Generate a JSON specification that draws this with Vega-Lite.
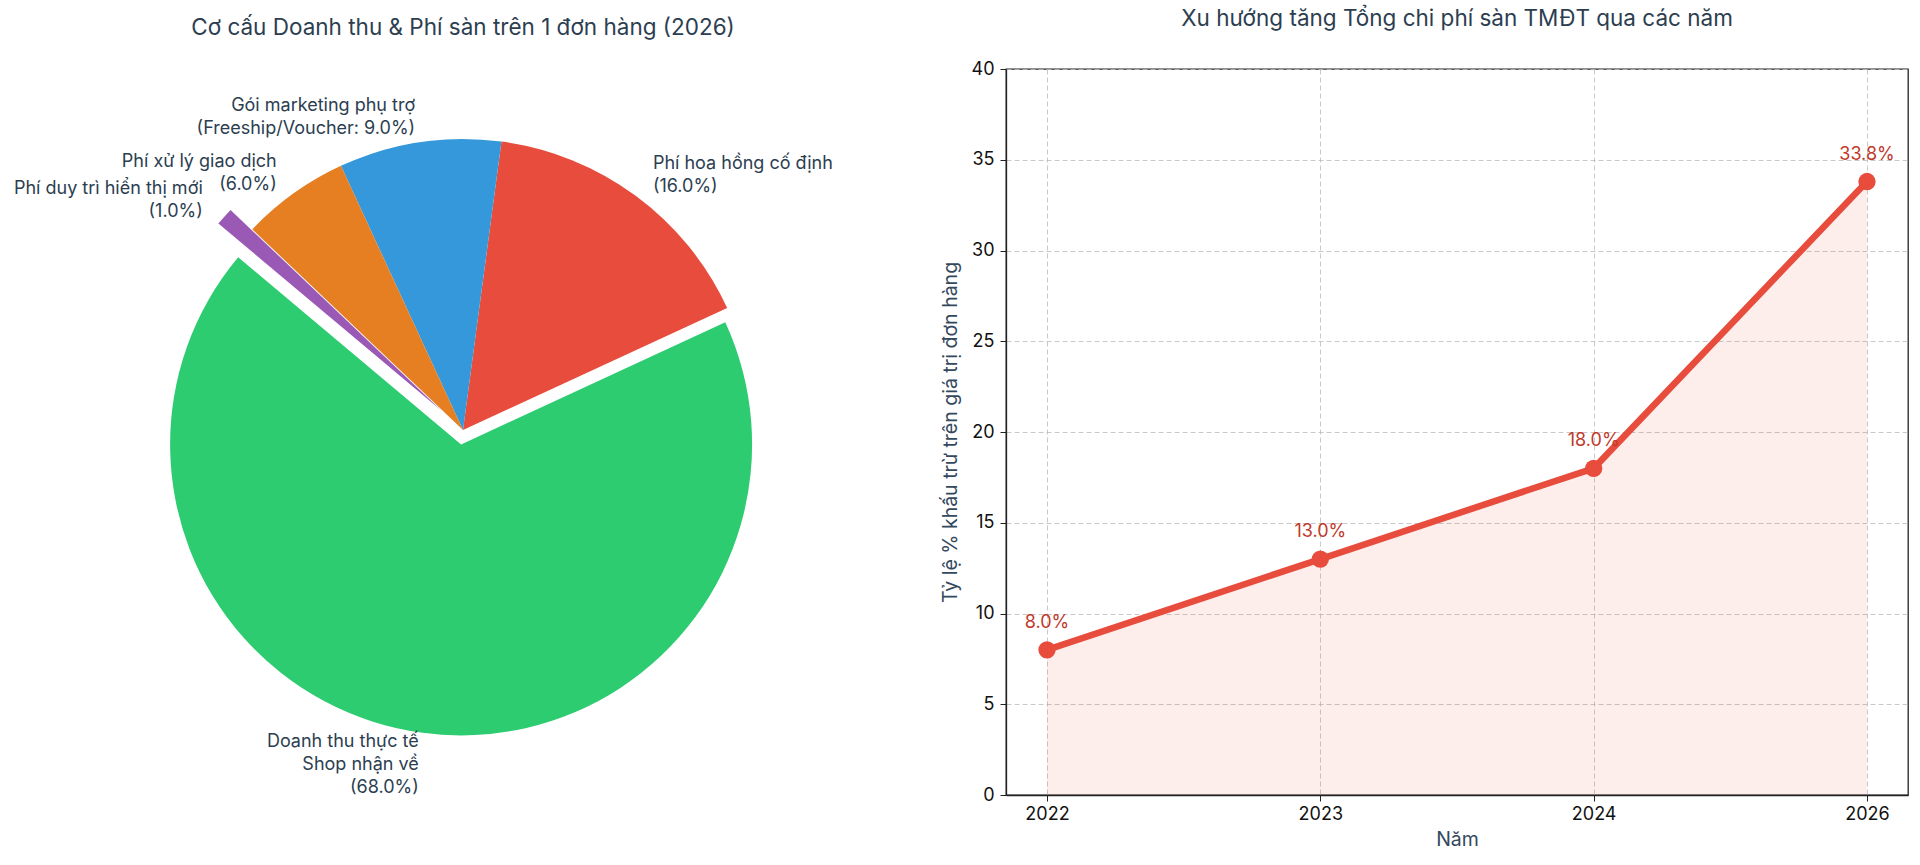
{
  "$schema": "https://vega.github.io/schema/vega-lite/v6.json",
  "padding": {"left": 0, "top": 6, "right": 0, "bottom": 0},
  "background": "white",
  "config": {
    "font": "Inter",
    "view": {"stroke": null},
    "title": {"fontSize": 22.5, "fontWeight": "normal", "color": "#2c3e50", "offset": 30, "anchor": "middle"},
    "axis": {"labelFont": "Inter", "titleFont": "Inter"}
  },
  "hconcat": [
    {
      "width": 926,
      "height": 722,
      "title": "Cơ cấu Doanh thu & Phí sàn trên 1 đơn hàng (2026)",
      "data": {"values": [
        {"id": "revenue", "part": "Doanh thu thực tế Shop nhận về", "value": 68, "label": "Doanh thu thực tế\nShop nhận về\n(68.0%)"},
        {"id": "commission", "part": "Phí hoa hồng cố định", "value": 16, "label": "Phí hoa hồng cố định\n(16.0%)"},
        {"id": "marketing", "part": "Gói marketing phụ trợ", "value": 9, "label": "Gói marketing phụ trợ\n(Freeship/Voucher: 9.0%)"},
        {"id": "processing", "part": "Phí xử lý giao dịch", "value": 6, "label": "Phí xử lý giao dịch\n(6.0%)"},
        {"id": "display", "part": "Phí duy trì hiển thị mới", "value": 1, "label": "Phí duy trì hiển thị mới\n(1.0%)"}
      ]},
      "encoding": {
        "theta": {"field": "value", "type": "quantitative", "stack": true, "scale": {"range": [-0.872665, 5.410521]}},
        "order": {"field": "value", "type": "quantitative", "sort": "ascending"},
        "detail": {"field": "id", "type": "nominal"}
      },
      "layer": [
        {
          "mark": {"type": "arc", "outerRadius": 291},
          "encoding": {
            "color": {"field": "id", "type": "nominal", "legend": null,
              "scale": {"domain": ["revenue", "commission", "marketing", "processing", "display"],
                        "range": ["#2ecc71", "#e74c3c", "#3498db", "#e67e22", "#9b59b6"]}},
            "opacity": {"condition": {"test": "datum.id === 'revenue' || datum.id === 'display'", "value": 0}, "value": 1}
          }
        },
        {
          "mark": {"type": "arc", "outerRadius": 291, "xOffset": -1.9, "yOffset": 14.4},
          "encoding": {
            "color": {"field": "id", "type": "nominal", "legend": null},
            "opacity": {"condition": {"test": "datum.id === 'revenue'", "value": 1}, "value": 0}
          }
        },
        {
          "mark": {"type": "arc", "outerRadius": 291, "xOffset": -21.7, "yOffset": -19.4},
          "encoding": {
            "color": {"field": "id", "type": "nominal", "legend": null},
            "opacity": {"condition": {"test": "datum.id === 'display'", "value": 1}, "value": 0}
          }
        },
        {
          "mark": {"type": "text", "radius": 320, "align": "left", "baseline": "middle", "lineBreak": "\n", "lineHeight": 23, "fontSize": 18, "color": "#2c3e50", "dy": -8},
          "encoding": {
            "text": {"field": "label"},
            "opacity": {"condition": {"test": "datum.id === 'commission'", "value": 1}, "value": 0}
          }
        },
        {
          "mark": {"type": "text", "radius": 320, "align": "right", "baseline": "middle", "lineBreak": "\n", "lineHeight": 23, "fontSize": 18, "color": "#2c3e50", "dy": -8},
          "encoding": {
            "text": {"field": "label"},
            "opacity": {"condition": {"test": "datum.id === 'processing' || datum.id === 'marketing'", "value": 1}, "value": 0}
          }
        },
        {
          "mark": {"type": "text", "radius": 320, "align": "right", "baseline": "middle", "lineBreak": "\n", "lineHeight": 23, "fontSize": 18, "color": "#2c3e50", "xOffset": -1.9, "yOffset": 14.4, "dy": -20},
          "encoding": {
            "text": {"field": "label"},
            "opacity": {"condition": {"test": "datum.id === 'revenue'", "value": 1}, "value": 0}
          }
        },
        {
          "mark": {"type": "text", "radius": 320, "align": "right", "baseline": "middle", "lineBreak": "\n", "lineHeight": 23, "fontSize": 18, "color": "#2c3e50", "xOffset": -21.7, "yOffset": -19.4, "dy": -8},
          "encoding": {
            "text": {"field": "label"},
            "opacity": {"condition": {"test": "datum.id === 'display'", "value": 1}, "value": 0}
          }
        }
      ]
    },
    {
      "width": 902,
      "height": 726,
      "view": {"stroke": "#222222", "strokeWidth": 1.3},
      "title": "Xu hướng tăng Tổng chi phí sàn TMĐT qua các năm",
      "data": {"values": [
        {"year": "2022", "pct": 8.0, "label": "8.0%"},
        {"year": "2023", "pct": 13.0, "label": "13.0%"},
        {"year": "2024", "pct": 18.0, "label": "18.0%"},
        {"year": "2026", "pct": 33.8, "label": "33.8%"}
      ]},
      "encoding": {
        "x": {"field": "year", "type": "ordinal", "title": "Năm",
          "scale": {"type": "point", "padding": 0.15},
          "axis": {"labelAngle": 0, "labelFontSize": 18, "labelColor": "#111111", "labelPadding": 4,
                   "titleFontSize": 19.5, "titleFontWeight": "normal", "titleColor": "#34495e", "titlePadding": 7,
                   "tickColor": "#222222", "tickSize": 6, "domainColor": "#222222", "domainWidth": 1.3,
                   "grid": true, "gridDash": [5, 3], "gridColor": "#bbbbbb", "gridOpacity": 0.8}},
        "y": {"field": "pct", "type": "quantitative", "title": "Tỷ lệ % khấu trừ trên giá trị đơn hàng",
          "scale": {"domain": [0, 40], "nice": false},
          "axis": {"values": [0, 5, 10, 15, 20, 25, 30, 35, 40], "labelFontSize": 18, "labelColor": "#111111", "labelPadding": 6,
                   "titleFontSize": 19.5, "titleFontWeight": "normal", "titleColor": "#34495e", "titlePadding": 11,
                   "tickColor": "#222222", "tickSize": 6, "domainColor": "#222222", "domainWidth": 1.3,
                   "grid": true, "gridDash": [5, 3], "gridColor": "#bbbbbb", "gridOpacity": 0.8}}
      },
      "layer": [
        {"mark": {"type": "area", "color": "#e74c3c", "opacity": 0.1}},
        {"mark": {"type": "line", "color": "#e74c3c", "strokeWidth": 6.5}},
        {"mark": {"type": "point", "filled": true, "color": "#e74c3c", "size": 300, "opacity": 1}},
        {"mark": {"type": "text", "color": "#c0392b", "fontSize": 18, "baseline": "middle", "dy": -27},
         "encoding": {"text": {"field": "label"}}}
      ]
    }
  ],
  "spacing": 80,
  "bounds": "flush"
}
